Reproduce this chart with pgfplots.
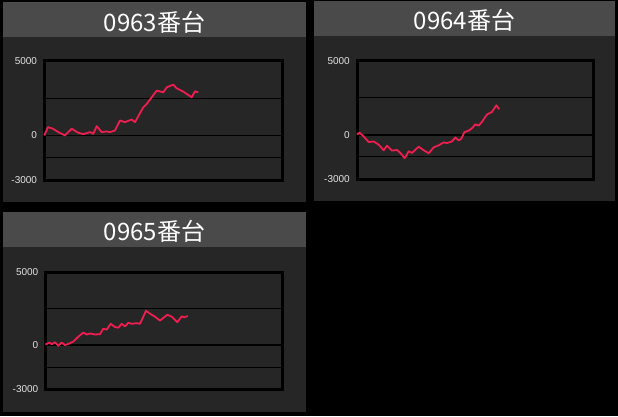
\documentclass[border=0pt]{standalone}
\usepackage{fontspec}
\setmainfont{Liberation Sans}
\newfontfamily\cjk{Noto Sans CJK JP}
\usepackage{pgfplots}
\pgfplotsset{compat=1.18}
\definecolor{bg}{HTML}{262626}
\definecolor{titlebar}{HTML}{4A4A4A}
\definecolor{ln}{HTML}{F01E50}
\definecolor{lbl}{HTML}{E2E2E2}
\pgfplotsset{
  panel/.style={
    scale only axis, anchor=south west,
    xmin=0, ymin=-3000, ymax=5000,
    axis line style={black, line width=3pt},
    xtick=\empty,
    ytick={-3000,-1500,2500,5000},
    yticklabels={-3000,,,5000},
    extra y ticks={0},
    extra y tick labels={0},
    extra y tick style={grid style={black, line width=1.8pt}},
    major tick length=0pt,
    ymajorgrids,
    grid style={black, line width=1pt},
    yticklabel style={font=\fontsize{10}{10}\selectfont, text=lbl, inner sep=0pt, xshift=-7pt},
    clip=false,
  }
}
\begin{document}
\begin{tikzpicture}[x=1pt,y=1pt]
\fill[black] (0,0) rectangle (618,416);
\useasboundingbox (0,0) rectangle (618,416);
% panels
\fill[bg] (3,213.7) rectangle (306,414);
\fill[titlebar] (3,379) rectangle (306,414);
\fill[bg] (314,214.7) rectangle (615.3,415);
\fill[titlebar] (314,380) rectangle (615.3,415);
\fill[bg] (3,3.7) rectangle (306,204.3);
\fill[titlebar] (3,168.7) rectangle (306,204.3);
% titles
\node[anchor=base, text=white, inner sep=0pt, font=\cjk\fontsize{24}{24}\selectfont] at (154.5,384.3) {0963番台};
\node[anchor=base, text=white, inner sep=0pt, font=\cjk\fontsize{24}{24}\selectfont] at (464.6,386) {0964番台};
\node[anchor=base, text=white, inner sep=0pt, font=\cjk\fontsize{24}{24}\selectfont] at (154.5,175.3) {0965番台};

\begin{axis}[panel, at={(44.2pt,235.8pt)}, width=238pt, height=119.4pt, xmax=238]
\addplot[ln, line width=1.8pt, line join=round, mark=none] coordinates {
(0,0) (3.8,553) (9.1,444) (14.1,222) (20.8,0) (27.5,444) (34.1,178) (39.1,89)
(45.8,222) (49.1,111) (52.5,622) (57.5,222) (62.5,267) (65.8,222) (70.8,333)
(75.8,1000) (80.8,889) (87.5,1067) (90.8,889) (99.1,1889) (102.5,2111)
(112.5,3000) (119.1,2889) (122.5,3222) (129.1,3400) (132.5,3156) (139.1,2933)
(147.5,2556) (150.8,2956) (154.1,2889)
};
\end{axis}

\begin{axis}[panel, at={(357pt,237pt)}, width=236pt, height=118.2pt, xmax=236]
\addplot[ln, line width=1.8pt, line join=round, mark=none] coordinates {
(0,0) (2.3,144) (6.7,-122) (11.7,-500) (16.7,-456) (21.7,-678) (26.7,-1056)
(30,-744) (35,-1078) (40,-1033) (43.3,-1233) (47.7,-1589) (51.7,-1122)
(55,-1233) (61.7,-811) (66.7,-1056) (71.7,-1256) (76.7,-856) (81.7,-722)
(86.7,-522) (90,-567) (95,-456) (98.3,-189) (101.7,-389) (104.3,-278)
(107.3,167) (111.7,278) (115,433) (118.3,700) (121.7,611) (125,878)
(130,1367) (135,1544) (139.3,1989) (142.3,1722)
};
\end{axis}

\begin{axis}[panel, at={(45.5pt,27pt)}, width=236.7pt, height=116.5pt, xmax=236.7]
\addplot[ln, line width=1.8pt, line join=round, mark=none] coordinates {
(0,50) (3.8,189) (6.2,78) (9.5,211) (12.8,-33) (16.2,189) (19.5,11)
(24.5,144) (27.8,256) (32.8,589) (37.8,878) (41.2,744) (44.5,811)
(49.5,744) (54.5,767) (57.8,1144) (61.2,1078) (65.2,1478) (69.5,1256)
(72.8,1211) (76.2,1478) (79.5,1300) (82.8,1544) (86.2,1478) (91.2,1522)
(94.5,1478) (100.5,2367) (106.2,2100) (109.5,1967) (114.5,1700)
(121.8,2100) (126.2,1967) (131.8,1589) (136.2,1989) (138.5,1922) (142.2,2011)
};
\end{axis}
\end{tikzpicture}
\end{document}
